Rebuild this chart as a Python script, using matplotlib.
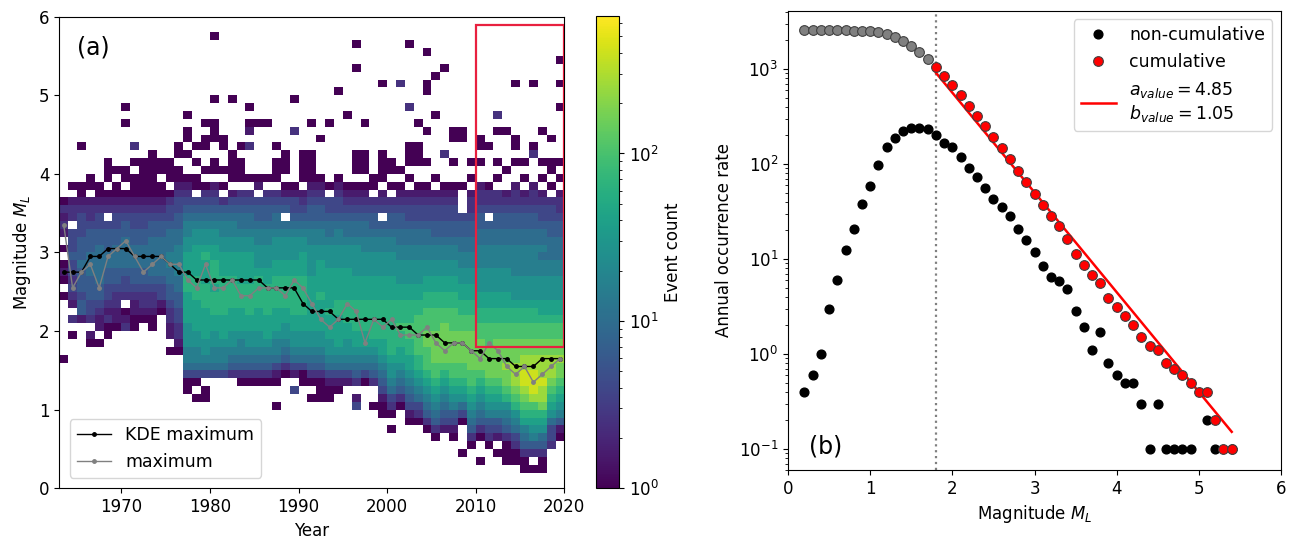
import numpy as np
import matplotlib
matplotlib.use('Agg')
from matplotlib import pyplot as plt
from matplotlib.colors import LogNorm
from matplotlib.patches import Rectangle

"""
Data
"""

# panel (a): per year, bins from col_start/10 up to 2.9 (col_low) and
# from 3.0 upwards (col_high); char k -> count 10**(0.2*k), '.' = empty
years = np.arange(1963, 2020)
col_start = [16, 19, 21, 18, 18, 19, 20, 20, 20, 21, 20, 22, 17, 17,
             12, 11, 11, 14, 13, 13, 13, 13, 13, 13, 10, 14, 12, 13,
             11, 11, 11, 12, 13, 10, 13, 10, 9, 7, 10, 8, 8, 7, 6, 7,
             6, 4, 5, 3, 5, 4, 3, 3, 2, 2, 2, 5, 6]
col_low = [
    "0.......0.010.", "0.2.1232334", "144344454", "01.233444555",
    "0.1123445555", "00212334455", "0112234455", "210.233455",
    "0011234455", "012234455", "0012234555", "01334555",
    "0.11223445566", "0122334455666",
    "003566777888899888", "0.03566778888999888", "00.3567788889998889",
    "3566778899989998", ".3566788899999888", ".2456778889999888",
    "02456678889998888", "02456778899998888", "02456778889999877",
    "02456788899998877", "0..01356678889999887", "0245677889999887",
    "3.1356778899999887", "00356778899999888",
    "0.02456778888888777", "0002456778888988887", "0013567788898888877",
    "013567888899888877", "13567788999888877", "31.24567889999888777",
    "03567889999888777", "0..24567899999888777", "001345678899999888777",
    "0.023567789999999888777", "0245678899a999887776",
    "01345678899aa999887776", "023567899aaaaa99887776",
    "02456789aaabbaaa9988776", "02456789aabbbbaaa9988776",
    "13456789abbbbbaa9988776", "01346789aabbbbaaa9988776",
    "0...035789aabbbbaa99887766", "02456789aabbbbbaa99887766",
    "0..02456789abbbbaa998877766", "02346789abbbbaaa998877766",
    "0.1346789abbbbbaa998877766", "000245679abbcbbbaa998877766",
    "00235679abcccbbbaa998777666", "00245689abcddccbbaa998777666",
    "0.246789acdddccbbaa998777666", "00245789bccdcccbbaa988777665",
    "2335789abcccbbaa988777665", "0146789abbcbbaa988777665",
]
col_high = [
    "0.12120", "333.221.0", "443332100....0", "4443221.00",
    "544332100", "4443.210.000", "544332100.0", "55443210.00.....0.0",
    "5443321000.0.2", "544332100000", "5544321000000", "554432100.00",
    "55543320.000", "65544332100.00",
    "7766543210..0.00.0", "8776543.00.0.0", "877654320.0..00.0",
    "877654321.00..000..0.......0", "7766542.0.0..00",
    "77665431.0000......0", "77655432.000.0", "77655432.0...2.10.0",
    "7665443.10......0", "76654432.0......0", "77655432.000.0",
    "7765.4310.000", "776543310......2...0", "77654321.0000",
    "7665443210000...0", "7665443210....0", "7655433.0.......0",
    "7665433210..........0", "765543210........0",
    "765543210.000..........0..0", "665543210.000...0", "6654432.00",
    "6654.321.0000........0", "6654432.0.00",
    "655443210.0..........2", "65543321.0.000....2.......0",
    "655433210..000..0", "655433210..0...0....00...0",
    "65443321.0.......0....0", "654433210...2..........0",
    "654433210..0..00", "55443...0.....00", "55443221.0.0",
    "655443221..0.00", "6554.3220....0", "65544322.0.0...0.2",
    "65544321..0....0", "655443221..0.00......0", "65544321.0.0",
    "655443221...20.......0", "65543321.0.0...0", "5544332.0.00..0",
    "55443221.0.0......0..0..0",
]
kde_max = [2.75, 2.75, 2.75, 2.95, 2.95, 3.05, 3.05, 3.05, 2.95, 2.95,
           2.95, 2.95, 2.85, 2.75, 2.75, 2.65, 2.65, 2.65, 2.65, 2.65,
           2.65, 2.65, 2.65, 2.55, 2.55, 2.55, 2.55, 2.35, 2.25, 2.25,
           2.25, 2.15, 2.15, 2.15, 2.15, 2.15, 2.15, 2.05, 2.05, 2.05,
           1.95, 1.95, 1.95, 1.85, 1.85, 1.85, 1.75, 1.75, 1.65, 1.65,
           1.65, 1.55, 1.55, 1.55, 1.65, 1.65, 1.65]
hist_max = [3.35, 2.55, 2.75, 2.85, 2.55, 2.95, 3.05, 3.15, 2.95, 2.75,
            2.85, 2.95, 2.85, 2.85, 2.65, 2.55, 2.85, 2.55, 2.55, 2.65,
            2.45, 2.45, 2.55, 2.55, 2.55, 2.45, 2.65, 2.55, 2.35, 2.15,
            2.05, 2.15, 2.35, 2.25, 1.85, 2.15, 2.05, 2.15, 1.95, 1.95,
            1.95, 2.05, 1.85, 1.75, 1.85, 1.85, 1.75, 1.65, 1.85, 1.75,
            1.55, 1.45, 1.55, 1.35, 1.45, 1.55, 1.65]

# panel (b): annual rates per 0.1 magnitude bin, M = 0.2 ... 5.4
mags = np.arange(2, 55) / 10
rate_noncum = [0.4, 0.6, 1.0, 3.0, 6.0, 12.5, 20.7, 38, 58, 98,
               151, 186, 224, 240, 240, 235, 202, 166, 150, 118,
               91, 72, 56, 43, 35, 28.6, 20.7, 15.7, 11.9, 8.4,
               6.5, 5.8, 4.8, 2.8, 1.9, 1.1, 1.7, 0.8, 0.6, 0.5,
               0.5, 0.3, 0.1, 0.3, 0.1, 0.1, 0.1, 0.1, 0.0, 0.2,
               0.1, 0.0, 0.1]
mc = 1.8
a_val, b_val = 4.85, 1.05


"""
Plot
"""


def make_grid():
    grid = np.full((60, len(years)), np.nan)
    for j, s in enumerate(col_start):
        n = 30 - s
        lev = col_low[j].ljust(n, '.')[:n] + col_high[j]
        for i, ch in enumerate(lev[:60 - s]):
            if ch != '.':
                grid[s + i, j] = 10 ** (0.2 * int(ch, 16))
    return grid


def plot_a(ax, cax):
    yedges = np.append(years, years[-1] + 1)
    medges = np.arange(61) / 10
    mesh = ax.pcolormesh(yedges, medges, make_grid(), cmap='viridis',
                         norm=LogNorm(vmin=1, vmax=660))
    xc = years + 0.5
    ax.plot(xc, kde_max, '.-', color='k', lw=1, ms=5, label='KDE maximum')
    ax.plot(xc, hist_max, '.-', color='grey', lw=1, ms=5, label='maximum')
    ax.add_patch(Rectangle((2010, 1.8), 10, 4.1, fill=False,
                           edgecolor='#e8203f', lw=1.6, zorder=5))
    ax.set_xlim(1963, 2020)
    ax.set_ylim(0, 6)
    ax.set_xticks([1970, 1980, 1990, 2000, 2010, 2020])
    ax.set_xlabel('Year')
    ax.set_ylabel('Magnitude $M_L$')
    ax.text(0.035, 0.935, '(a)', transform=ax.transAxes, fontsize=17,
            va='center')
    ax.legend(loc='lower left', fontsize=12.5, borderaxespad=0.6)
    cb = plt.colorbar(mesh, cax=cax)
    cb.set_label('Event count', fontsize=12)
    cb.ax.tick_params(labelsize=12)


def plot_b(ax):
    rate = np.array(rate_noncum)
    cum = np.cumsum(rate[::-1])[::-1]
    ok = rate > 0
    below = mags < mc - 0.01
    ax.axvline(mc, color='grey', ls=':', lw=1.6, zorder=1)
    mfit = np.array([mc, mags[-1]])
    fit, = ax.plot(mfit, 10 ** (a_val - b_val * mfit), color='red', lw=1.8,
                   zorder=2,
                   label='$a_{value} = %.2f$\n$b_{value} = %.2f$'
                   % (a_val, b_val))
    nc, = ax.plot(mags[ok], rate[ok], 'o', color='k', ms=6.3, zorder=3,
                  label='non-cumulative')
    ax.plot(mags[below], cum[below], 'o', color='grey', mec='0.25',
            mew=0.8, ms=7, zorder=4)
    cu, = ax.plot(mags[~below], cum[~below], 'o', color='red', mec='0.25',
                  mew=0.8, ms=7, zorder=4, label='cumulative')
    ax.set_yscale('log')
    ax.set_xlim(0, 6)
    ax.set_ylim(0.06, 4100)
    ax.set_xlabel('Magnitude $M_L$')
    ax.set_ylabel('Annual occurrence rate')
    ax.text(0.043, 0.052, '(b)', transform=ax.transAxes, fontsize=17,
            va='center')
    ax.legend(handles=[nc, cu, fit], loc='upper right', fontsize=12.5,
              borderaxespad=0.5)


def plot_master():
    plt.rcParams['font.size'] = 12
    plt.rcParams['xtick.labelsize'] = 12
    plt.rcParams['ytick.labelsize'] = 12
    fig = plt.figure(figsize=(12.95, 5.58), dpi=100)
    ax1 = fig.add_axes([0.0458, 0.1249, 0.3900, 0.8452])
    cax = fig.add_axes([0.4602, 0.1249, 0.0178, 0.8459])
    ax2 = fig.add_axes([0.6085, 0.1577, 0.3807, 0.8231])
    plot_a(ax1, cax)
    plot_b(ax2)
    fig.savefig('out.png', dpi=100)


if __name__ == '__main__':
    plot_master()
